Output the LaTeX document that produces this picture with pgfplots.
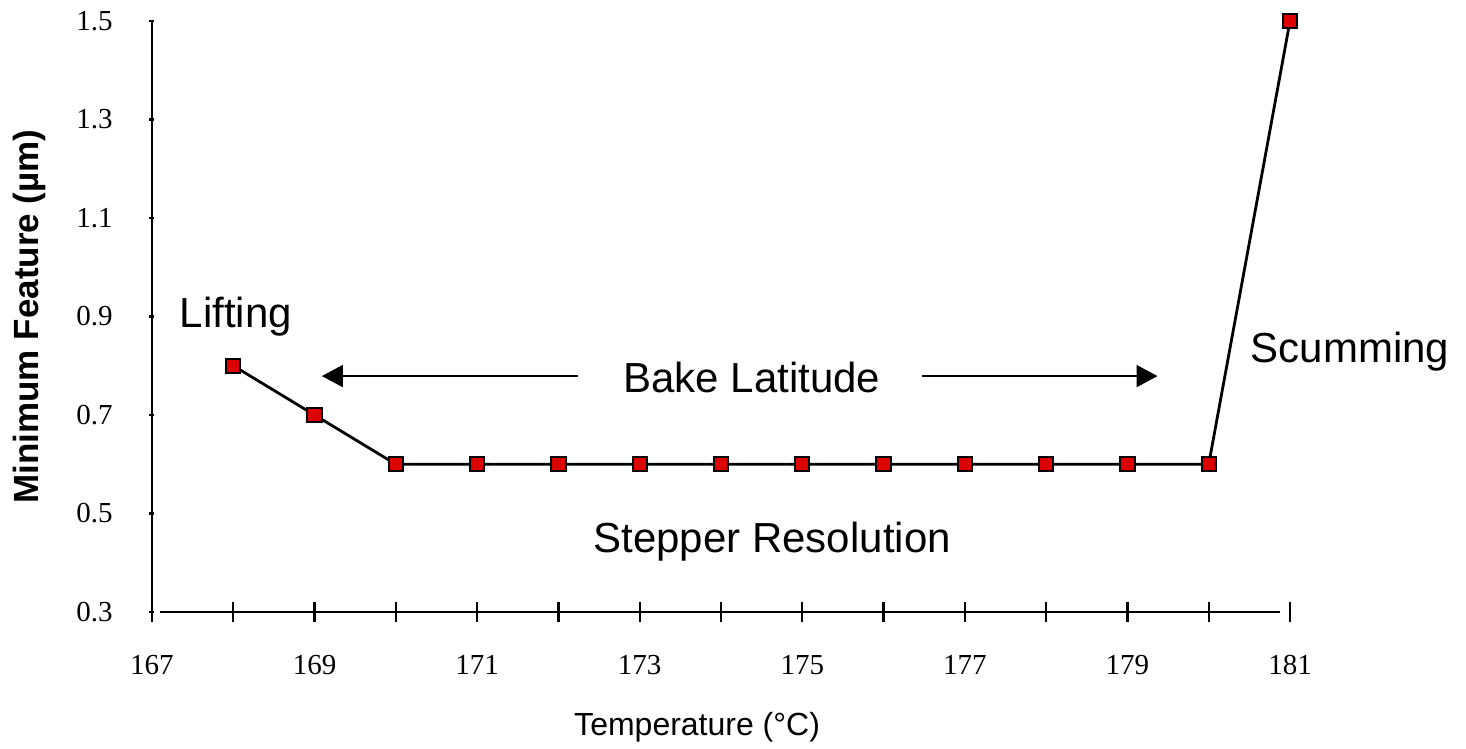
\documentclass[border=0pt]{standalone}
\usepackage{fontspec}
\setmainfont{Liberation Serif}
\newfontfamily\arial{Liberation Sans}
\usepackage{pgfplots}
\pgfplotsset{compat=1.18}
\usetikzlibrary{arrows.meta}
\definecolor{markred}{RGB}{221,0,0}

\begin{document}
\begin{tikzpicture}
\begin{axis}[
  scale only axis,
  width=569pt, height=295.5pt,
  xmin=167, xmax=181, ymin=0.3, ymax=1.5,
  axis lines=left,
  axis line style={-, line width=1.3pt},
  x axis line style={shorten <=4pt, shorten >=5pt},
  xtick={167,...,181},
  xticklabels={167,,169,,171,,173,,175,,177,,179,,181},
  ytick={0.3,0.5,0.7,0.9,1.1,1.3,1.5},
  y tick label style={/pgf/number format/fixed,
    /pgf/number format/fixed zerofill,
    /pgf/number format/precision=1},
  /pgf/number format/assume math mode=true,
  tick align=center,
  every tick/.style={black, line width=1.2pt},
  xtick style={/pgfplots/major tick length=10pt},
  ytick style={/pgfplots/major tick length=2.5pt},
  tick label style={font=\fontsize{14.5}{16}\selectfont},
  xticklabel style={yshift=-16pt},
  yticklabel style={xshift=-14pt},
  xlabel={Temperature (°C)},
  xlabel style={font=\arial\fontsize{16}{18}\selectfont, at={(axis description cs:0.479,-0.1946)}, anchor=center},
  ylabel={Minimum Feature (µm)},
  ylabel style={font=\arial\bfseries\fontsize{17.5}{20}\selectfont, at={(axis description cs:-0.108,0.5)}, anchor=center},
  clip=false,
]
\addplot[black, line width=1.4pt, mark=square*, mark size=3.6pt,
  mark options={fill=markred, draw=black, line width=1pt}]
  coordinates {
    (168,0.8) (169,0.7) (170,0.6) (171,0.6) (172,0.6) (173,0.6) (174,0.6)
    (175,0.6) (176,0.6) (177,0.6) (178,0.6) (179,0.6) (180,0.6) (181,1.5)
  };
\begin{scope}[font=\arial\fontsize{21}{24}\selectfont]
  \node[anchor=base] at (axis cs:168.03,0.878) {Lifting};
  \node[anchor=base] at (axis cs:181.74,0.806) {Scumming};
  \node[anchor=base] at (axis cs:174.38,0.745) {Bake Latitude};
  \node[anchor=base] at (axis cs:174.63,0.42) {Stepper Resolution};
\end{scope}
\draw[line width=1pt, -{Triangle[length=10.5pt, width=11pt]}]
  (axis cs:172.24,0.779) -- (axis cs:169.09,0.779);
\draw[line width=1pt, -{Triangle[length=10.5pt, width=11pt]}]
  (axis cs:176.47,0.779) -- (axis cs:179.37,0.779);
\end{axis}
\pgfresetboundingbox
\path (-76pt,-68.5pt) rectangle (657pt,306pt);
\end{tikzpicture}
\end{document}
